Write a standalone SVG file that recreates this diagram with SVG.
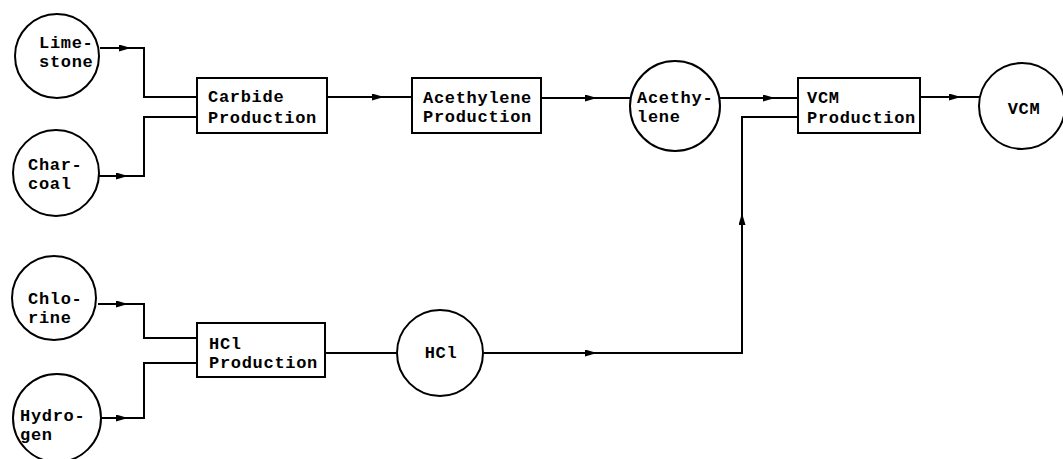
<svg xmlns="http://www.w3.org/2000/svg" width="1063" height="459" viewBox="0 0 1063 459">
<style>
.n{fill:none;stroke:#000;stroke-width:2}
.c{fill:none;stroke:#000;stroke-width:2}
.t{font-family:"Liberation Mono","DejaVu Sans Mono",monospace;font-weight:bold;font-size:17px;letter-spacing:0.7px;fill:#000}
.m{text-anchor:middle}
</style>
<defs>
<marker id="a" viewBox="0 0 12 7" refX="12" refY="3.5" markerWidth="12" markerHeight="7" markerUnits="userSpaceOnUse" orient="auto">
<path d="M0,0 L12,3.5 L0,7 z" fill="#000"/>
</marker>
</defs>
<rect width="1063" height="459" fill="#fff"/>
<g id="connectors">
<path class="c" d="M100,48 H131" marker-end="url(#a)"/>
<path class="c" d="M131,48 H144 V97 H197"/>
<path class="c" d="M99,176 H128" marker-end="url(#a)"/>
<path class="c" d="M128,176 H144 V117 H197"/>
<path class="c" d="M327,97 H384" marker-end="url(#a)"/>
<path class="c" d="M384,97 H412"/>
<path class="c" d="M541,98 H597" marker-end="url(#a)"/>
<path class="c" d="M597,98 H631"/>
<path class="c" d="M719,98 H775" marker-end="url(#a)"/>
<path class="c" d="M775,98 H798"/>
<path class="c" d="M920,97 H961" marker-end="url(#a)"/>
<path class="c" d="M961,97 H980"/>
<path class="c" d="M98,304 H128" marker-end="url(#a)"/>
<path class="c" d="M128,304 H144 V338 H197"/>
<path class="c" d="M101,418 H128" marker-end="url(#a)"/>
<path class="c" d="M128,418 H144 V363 H197"/>
<path class="c" d="M325,353 H396"/>
<path class="c" d="M484,353 H597" marker-end="url(#a)"/>
<path class="c" d="M597,353 H742 V213"/>
<path class="c" d="M742,230 V213" marker-end="url(#a)"/>
<path class="c" d="M742,213 V117 H798"/>
</g>
<g id="limestone">
<circle class="n" cx="57" cy="56" r="42"/>
<text class="t" x="39" y="48">Lime-</text>
<text class="t" x="39" y="67">stone</text>
</g>
<g id="charcoal">
<circle class="n" cx="56" cy="173" r="43"/>
<text class="t" x="28" y="170">Char-</text>
<text class="t" x="28" y="189">coal</text>
</g>
<g id="chlorine">
<circle class="n" cx="54" cy="298" r="42"/>
<text class="t" x="28" y="304">Chlo-</text>
<text class="t" x="28" y="323">rine</text>
</g>
<g id="hydrogen">
<circle class="n" cx="57" cy="418" r="44"/>
<text class="t" x="20" y="421">Hydro-</text>
<text class="t" x="20" y="440">gen</text>
</g>
<g id="carbide">
<rect class="n" x="197" y="78" width="130" height="55"/>
<text class="t" x="208" y="102">Carbide</text>
<text class="t" x="208" y="123">Production</text>
</g>
<g id="acethylene-production">
<rect class="n" x="412" y="78" width="129" height="55"/>
<text class="t" x="423" y="103">Acethylene</text>
<text class="t" x="423" y="122">Production</text>
</g>
<g id="acethylene">
<circle class="n" cx="675" cy="106" r="45"/>
<text class="t" x="637" y="103">Acethy-</text>
<text class="t" x="637" y="122">lene</text>
</g>
<g id="vcm-production">
<rect class="n" x="798" y="78" width="122" height="55"/>
<text class="t" x="807" y="103">VCM</text>
<text class="t" x="807" y="123">Production</text>
</g>
<g id="vcm">
<circle class="n" cx="1022" cy="106" r="43"/>
<text class="t m" x="1024" y="114">VCM</text>
</g>
<g id="hcl-production">
<rect class="n" x="197" y="323" width="128" height="54"/>
<text class="t" x="209" y="349">HCl</text>
<text class="t" x="209" y="368">Production</text>
</g>
<g id="hcl">
<circle class="n" cx="440" cy="353" r="43"/>
<text class="t m" x="441" y="358">HCl</text>
</g>
</svg>
